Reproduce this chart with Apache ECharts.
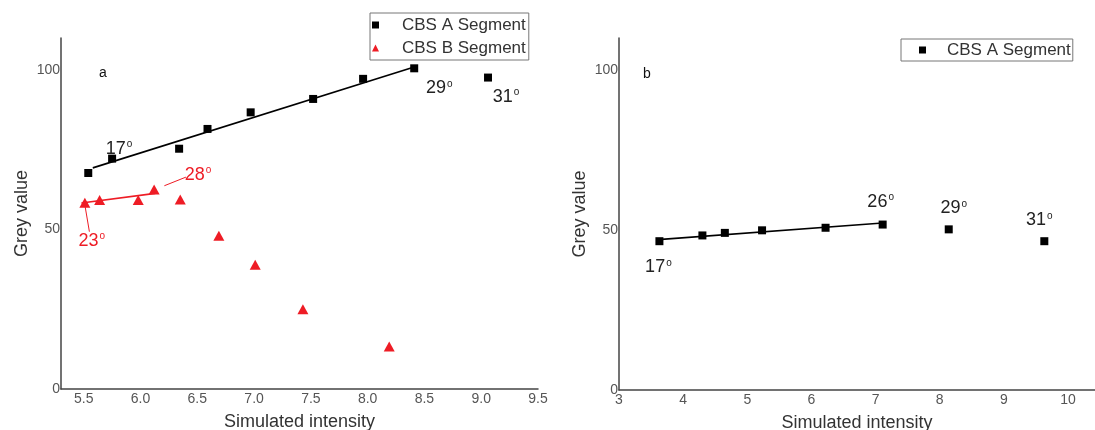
<!DOCTYPE html>
<html>
<head>
<meta charset="utf-8">
<title>Grey value vs simulated intensity</title>
<script src="https://cdn.jsdelivr.net/npm/echarts@6/dist/echarts.min.js"></script>
<style>
  html, body { margin: 0; padding: 0; background: #fff; }
  #chart { width: 1095px; height: 430px; }
</style>
</head>
<body>
<div id="chart"></div>
<script>
// ---- Panel a ----
const intensityA_a = [5.54, 5.75, 6.34, 6.59, 6.97, 7.52, 7.96, 8.41, 9.06];
const greyA_a      = [67.7, 72.2, 75.3, 81.5, 86.7, 90.9, 97.2, 100.5, 97.6];
const angleA_a     = ['', '17', '', '', '', '', '', '29', '31'];

const intensityB_a = [5.51, 5.64, 5.98, 6.12, 6.35, 6.69, 7.01, 7.43, 8.19];
const greyB_a      = [58.4, 59.2, 59.2, 62.5, 59.4, 48.0, 38.9, 25.0, 13.3];
const angleB_a     = ['23', '', '', '28', '', '', '', '', ''];

const fitA_a = [[5.58, 69.3], [8.41, 100.9]];
const fitB_a = [[5.48, 58.3], [6.13, 61.3]];
const leader28_a = [[6.21, 63.7], [6.40, 66.4]];
const leader23_a = [[5.51, 57.7], [5.55, 49.3]];

// ---- Panel b ----
const intensityA_b = [3.63, 4.30, 4.65, 5.23, 6.22, 7.11, 8.14, 9.63];
const greyA_b      = [46.5, 48.3, 49.1, 49.9, 50.7, 51.7, 50.2, 46.5];
const angleA_b     = ['17', '', '', '', '', '26', '29', '31'];
const fitA_b = [[3.61, 47.0], [7.11, 52.2]];

// ---- Axis ticks ----
const ticksX_a = [5.5, 6.0, 6.5, 7.0, 7.5, 8.0, 8.5, 9.0, 9.5];
const ticksX_b = [3, 4, 5, 6, 7, 8, 9, 10];
const ticksY = [0, 50, 100];

const FONT = '"Liberation Sans", Arial, sans-serif';
const BLACK = '#000';
const RED = '#ee1c25';

// label offsets (px) for the angle annotations, keyed by point index
const offA_a = { 1: [7, -10], 7: [25, 20], 8: [18, 19] };
const offB_a = { 0: [7, 38], 3: [44, -15] };
const offA_b = { 0: [-1, 26], 5: [-2, -23], 6: [5, -21], 7: [-5, -21] };

function angleLabel(txt, offset, color) {
  return {
    show: true,
    position: 'inside',
    offset: offset,
    formatter: '{n|' + txt + '}{d|o}',
    rich: {
      n: { fontSize: 18, color: color, fontFamily: FONT },
      d: { fontSize: 10, color: color, fontFamily: FONT, verticalAlign: 'top', padding: [0, 0, 0, 1] }
    }
  };
}

function points(xs, ys, angles, offsets, color) {
  return xs.map((x, i) => {
    const item = { value: [x, ys[i]] };
    if (angles[i]) item.label = angleLabel(angles[i], offsets[i], color);
    return item;
  });
}

function xAxisCfg(gridIndex, min, max, ticks, fmt) {
  return {
    type: 'value', gridIndex, min, max,
    name: 'Simulated intensity', nameLocation: 'middle', nameGap: 24,
    nameTextStyle: { fontSize: 18, color: '#333', fontFamily: FONT },
    axisLine: { show: true, onZero: false, lineStyle: { color: '#444', width: 1.5 } },
    axisTick: { show: false },
    splitLine: { show: false },
    axisLabel: { customValues: ticks, formatter: fmt, fontSize: 14, color: '#555', fontFamily: FONT, margin: 3 }
  };
}

function yAxisCfg(gridIndex) {
  return {
    type: 'value', gridIndex, min: 0, max: 110,
    name: 'Grey value', nameLocation: 'middle', nameGap: 30,
    nameTextStyle: { fontSize: 18, color: '#333', fontFamily: FONT },
    axisLine: { show: true, lineStyle: { color: '#444', width: 1.5 } },
    axisTick: { show: false },
    splitLine: { show: false },
    axisLabel: { customValues: ticksY, fontSize: 14, color: '#555', fontFamily: FONT, margin: 1 }
  };
}

function fitLine(name, data, xi, color, width) {
  return {
    name, type: 'line', xAxisIndex: xi, yAxisIndex: xi, data,
    symbol: 'none', silent: true, z: 1,
    lineStyle: { color, width }
  };
}

const legendText = (padLeft) => ({
  fontSize: 17, color: '#333', fontFamily: FONT, lineHeight: 20, padding: [0, 0, 0, padLeft]
});

const chart = echarts.init(document.getElementById('chart'), null, { renderer: 'canvas' });

chart.setOption({
  animation: false,
  backgroundColor: '#fff',
  title: [
    { text: 'a', left: 94, top: 61, textStyle: { fontSize: 14, fontWeight: 'normal', color: '#111', fontFamily: FONT } },
    { text: 'b', left: 638, top: 62, textStyle: { fontSize: 14, fontWeight: 'normal', color: '#111', fontFamily: FONT } }
  ],
  legend: [
    {
      orient: 'vertical', left: 370, top: 13,
      itemWidth: 7, itemHeight: 7, itemGap: 3,
      padding: [2, 3, 2, 2],
      borderColor: '#777', borderWidth: 1,
      textStyle: legendText(18),
      data: [
        { name: 'CBS A Segment', icon: 'rect' },
        { name: 'CBS B Segment', icon: 'triangle' }
      ]
    },
    {
      orient: 'vertical', left: 901, top: 39,
      itemWidth: 7, itemHeight: 7,
      padding: [1, 2, 1, 18],
      borderColor: '#777', borderWidth: 1,
      textStyle: legendText(16),
      data: [{ name: 'CBS A Segment', icon: 'rect' }]
    }
  ],
  grid: [
    { left: 61, right: 557, top: 38, bottom: 41, outerBoundsMode: 'none', containLabel: false },
    { left: 619, right: 0, top: 38, bottom: 40, outerBoundsMode: 'none', containLabel: false }
  ],
  xAxis: [
    xAxisCfg(0, 5.3, 9.5, ticksX_a, v => v.toFixed(1)),
    xAxisCfg(1, 3, 10.42, ticksX_b, v => String(v))
  ],
  yAxis: [yAxisCfg(0), yAxisCfg(1)],
  series: [
    fitLine('fit A a', fitA_a, 0, BLACK, 1.6),
    fitLine('fit B a', fitB_a, 0, RED, 1.6),
    fitLine('leader 28', leader28_a, 0, RED, 1),
    fitLine('leader 23', leader23_a, 0, RED, 1),
    {
      name: 'CBS A Segment', type: 'scatter', xAxisIndex: 0, yAxisIndex: 0,
      symbol: 'rect', symbolSize: 8, itemStyle: { color: BLACK, opacity: 1 }, z: 3,
      data: points(intensityA_a, greyA_a, angleA_a, offA_a, '#222')
    },
    {
      name: 'CBS B Segment', type: 'scatter', xAxisIndex: 0, yAxisIndex: 0,
      symbol: 'triangle', symbolSize: [11, 10], itemStyle: { color: RED, opacity: 1 }, z: 3,
      data: points(intensityB_a, greyB_a, angleB_a, offB_a, RED)
    },
    fitLine('fit A b', fitA_b, 1, BLACK, 1.6),
    {
      name: 'CBS A Segment', type: 'scatter', xAxisIndex: 1, yAxisIndex: 1,
      symbol: 'rect', symbolSize: 8, itemStyle: { color: BLACK, opacity: 1 }, z: 3,
      data: points(intensityA_b, greyA_b, angleA_b, offA_b, '#222')
    }
  ]
});
</script>
</body>
</html>
